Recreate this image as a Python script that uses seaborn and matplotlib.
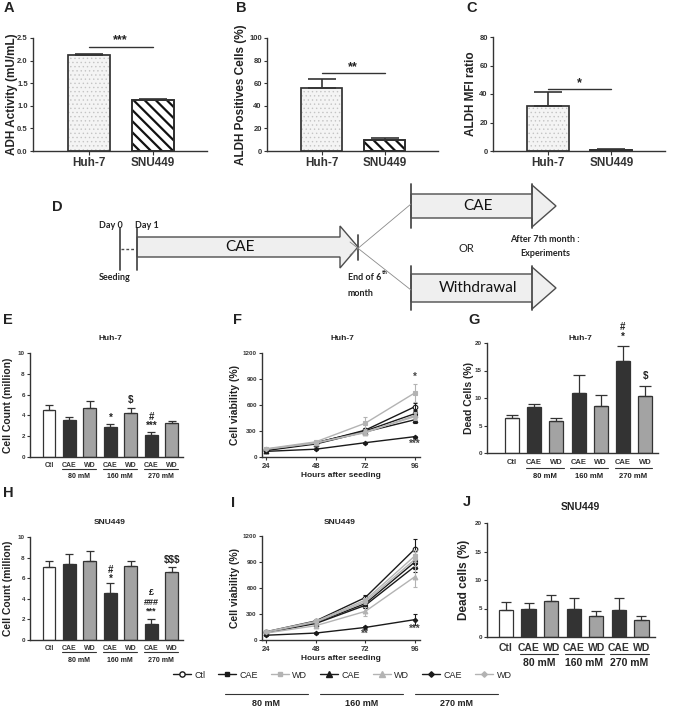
import numpy as np
import pandas as pd
import matplotlib
matplotlib.use("Agg")
import matplotlib.pyplot as plt
from matplotlib.patches import Polygon
from matplotlib.lines import Line2D
from matplotlib.transforms import offset_copy
import seaborn as sns

W, H = 676, 709

# ---- values ----
cell_lines = ["Huh-7", "SNU449"]
adh_mean = [2.12, 1.13]
adh_sem = [0.02, 0.03]
aldh_pos_mean = [55.5, 9.5]
aldh_pos_sem = [8.5, 2.0]
aldh_mfi_mean = [31.5, 1.0]
aldh_mfi_sem = [10.0, 0.6]

conditions = ["Ctl", "CAE", "WD", "CAE", "WD", "CAE", "WD"]
doses = ["80 mM", "160 mM", "270 mM"]

huh_count = [4.5, 3.6, 4.7, 2.9, 4.25, 2.1, 3.25]
huh_count_sem = [0.5, 0.2, 0.7, 0.3, 0.5, 0.35, 0.2]
huh_dead = [6.4, 8.3, 5.9, 11.0, 8.5, 16.8, 10.4]
huh_dead_sem = [0.6, 0.6, 0.4, 3.2, 2.0, 2.7, 1.7]
snu_count = [7.05, 7.4, 7.65, 4.55, 7.2, 1.55, 6.65]
snu_count_sem = [0.65, 0.95, 0.95, 1.0, 0.5, 0.5, 0.45]
snu_dead = [4.8, 4.9, 6.3, 4.9, 3.7, 4.7, 3.0]
snu_dead_sem = [1.4, 1.1, 1.1, 2.0, 0.8, 2.1, 0.6]

hours = [24, 48, 72, 96]
huh_via_ctl = [80, 160, 310, 580]
huh_via_cae80 = [85, 165, 300, 500]
huh_via_wd80 = [95, 175, 390, 740]
huh_via_cae160 = [75, 150, 290, 430]
huh_via_wd160 = [90, 165, 280, 480]
huh_via_cae270 = [65, 90, 165, 235]
huh_via_wd270 = [90, 160, 290, 465]
huh_via_ctl_sem = [8, 12, 25, 40]
huh_via_cae80_sem = [8, 10, 20, 35]
huh_via_wd80_sem = [10, 15, 70, 100]
huh_via_cae160_sem = [6, 10, 20, 40]
huh_via_wd160_sem = [8, 12, 25, 45]
huh_via_cae270_sem = [5, 6, 10, 12]
huh_via_wd270_sem = [8, 10, 25, 40]

snu_via_ctl = [95, 220, 490, 1050]
snu_via_cae80 = [90, 200, 420, 900]
snu_via_wd80 = [95, 215, 460, 970]
snu_via_cae160 = [85, 190, 400, 850]
snu_via_wd160 = [80, 165, 330, 730]
snu_via_cae270 = [55, 80, 145, 235]
snu_via_wd270 = [90, 205, 440, 930]
snu_via_ctl_sem = [10, 15, 30, 110]
snu_via_cae80_sem = [8, 15, 30, 80]
snu_via_wd80_sem = [8, 15, 30, 70]
snu_via_cae160_sem = [8, 12, 25, 70]
snu_via_wd160_sem = [8, 15, 50, 120]
snu_via_cae270_sem = [5, 8, 15, 65]
snu_via_wd270_sem = [8, 15, 30, 80]

# ---- style ----
sns.set_theme(style="ticks")
plt.rcParams["font.family"] = ["Liberation Sans", "DejaVu Sans"]
plt.rcParams["font.weight"] = "bold"
plt.rcParams["axes.labelweight"] = "bold"
plt.rcParams["axes.edgecolor"] = "#333333"
plt.rcParams["xtick.color"] = "#333333"
plt.rcParams["ytick.color"] = "#333333"
plt.rcParams["text.color"] = "#222222"
plt.rcParams["axes.labelcolor"] = "#222222"
plt.rcParams["hatch.linewidth"] = 1.5

DARK = "#333333"
MID = "#a3a3a3"
LINE_BLACK = "#1a1a1a"
LINE_GRAY = "#b3b3b3"
dfont = ["Lato", "DejaVu Sans"]

fig = plt.figure(figsize=(W / 100, H / 100), dpi=100)
ov = fig.add_axes([0, 0, 1, 1])
ov.set_xlim(0, W)
ov.set_ylim(H, 0)
ov.axis("off")


def px_axes(x0, y0, x1, y1):
    return fig.add_axes([x0 / W, 1 - y1 / H, (x1 - x0) / W, (y1 - y0) / H])


def finish(ax, ytick_fs, ylabel, label_x, ylabel_fs):
    sns.despine(ax=ax)
    for s in ("left", "bottom"):
        ax.spines[s].set_linewidth(1.0)
    ax.tick_params(axis="y", labelsize=ytick_fs, length=2.5, width=0.8, pad=1.2)
    ax.set_ylabel(ylabel, fontsize=ylabel_fs)
    ax.yaxis.set_label_coords(label_x, 0.5)


def pair_panel(rect, means, sems, ymax, ystep, fmt, ylabel, label_x, sig, sig_y):
    ax = px_axes(*rect)
    df = pd.DataFrame({"line": cell_lines, "value": means})
    sns.barplot(data=df, x="line", y="value", hue="line", palette=["#f4f4f4", "white"],
                width=0.66, edgecolor=DARK, linewidth=1.2, legend=False, ax=ax)
    dots, stripes = ax.patches[0], ax.patches[1]
    dots.set_hatch("....")
    dots.set_edgecolor("#c4c4c4")
    stripes.set_hatch("\\\\\\")
    stripes.set_edgecolor("#111111")
    if hasattr(dots, "set_hatch_linewidth"):
        dots.set_hatch_linewidth(0.5)
        stripes.set_hatch_linewidth(1.6)
    ax.bar([0, 1], means, width=0.66, fill=False, edgecolor=DARK, linewidth=1.2)
    ax.errorbar([0, 1], means, yerr=[[0, 0], sems], fmt="none", ecolor=DARK,
                elinewidth=1.2, capsize=10, capthick=1.2)
    ax.plot([0, 1], [sig_y, sig_y], color=DARK, lw=1.0)
    ax.text(0.5, sig_y, sig, ha="center", va="bottom", fontsize=9)
    ax.set_xlim(-0.87, 1.85)
    ax.set_ylim(0, ymax)
    ticks = np.arange(0, ymax + ystep / 2, ystep)
    ax.set_yticks(ticks, [fmt.format(t) for t in ticks])
    ax.set_xticks([0, 1], cell_lines)
    ax.tick_params(axis="x", labelsize=8.5, length=3, width=0.8, pad=1.5)
    ax.set_xlabel("")
    finish(ax, 5.5, ylabel, label_x, 8.5)
    return ax


def dose_panel(rect, means, sems, ymax, ystep, ylabel, label_x, offs, tick_fs,
               group_fs, ylabel_fs, marks, cap=3):
    ax = px_axes(*rect)
    ids = [f"{c}{i}" for i, c in enumerate(conditions)]
    df = pd.DataFrame({"cond": ids, "value": means})
    colors = ["white", DARK, MID, DARK, MID, DARK, MID]
    sns.barplot(data=df, x="cond", y="value", hue="cond", palette=colors, width=0.63,
                edgecolor=DARK, linewidth=0.9, legend=False, ax=ax)
    ax.errorbar(range(7), means, yerr=[[0] * 7, sems], fmt="none", ecolor=DARK,
                elinewidth=0.9, capsize=cap, capthick=0.9)
    for i, y, s, fs in marks:
        ax.text(i, y, s, ha="center", va="center", fontsize=fs, clip_on=False)
    lab_px, under_px, group_px = offs
    pad_pt = (lab_px - tick_fs * 1.389 / 2) * 0.72
    ax.set_xticks(range(7), conditions)
    ax.tick_params(axis="x", labelsize=tick_fs, length=0, pad=pad_pt)
    base = ax.get_xaxis_transform()
    tr_line = offset_copy(base, fig=fig, y=-under_px, units="dots")
    tr_text = offset_copy(base, fig=fig, y=-group_px, units="dots")
    for k, dose in enumerate(doses):
        i = 1 + 2 * k
        ax.plot([i - 0.38, i + 1.32], [0, 0], transform=tr_line, color=DARK, lw=0.8,
                clip_on=False)
        ax.text(i + 0.47, 0, dose, transform=tr_text, ha="center", va="center",
                fontsize=group_fs)
    ax.set_xlim(-0.93, 6.55)
    ax.set_ylim(0, ymax)
    ax.set_yticks(np.arange(0, ymax + ystep / 2, ystep))
    ax.set_xlabel("")
    finish(ax, 4.5, ylabel, label_x, ylabel_fs)
    return ax


via_colors = [LINE_BLACK, LINE_BLACK, LINE_GRAY, LINE_BLACK, LINE_GRAY, LINE_BLACK, LINE_GRAY]
via_markers = ["o", "s", "s", "^", "^", "D", "D"]
via_faces = ["white", LINE_BLACK, LINE_GRAY, LINE_BLACK, LINE_GRAY, LINE_BLACK, LINE_GRAY]
via_sizes = [3.3, 3.0, 3.0, 3.4, 3.4, 2.3, 2.3]


def via_panel(rect, series, sems, ylabel, label_x, marks):
    ax = px_axes(*rect)
    for vals, err, c, m, mfc, ms in zip(series, sems, via_colors, via_markers, via_faces, via_sizes):
        sns.lineplot(x=hours, y=vals, ax=ax, color=c, marker=m, markersize=ms,
                     markerfacecolor=mfc, markeredgecolor=c, markeredgewidth=0.8,
                     linewidth=1.0)
        ax.errorbar(hours, vals, yerr=err, fmt="none", ecolor=c, elinewidth=0.8,
                    capsize=1.5, capthick=0.8)
    for x, y, s in marks:
        ax.text(x, y, s, ha="center", va="center", fontsize=7, color="#444444")
    ax.set_xlim(22, 98.5)
    ax.set_xticks(hours)
    ax.set_ylim(0, 1200)
    ax.set_yticks(range(0, 1201, 300))
    ax.tick_params(axis="x", labelsize=5.5, length=2.5, width=0.8, pad=1.5)
    ax.set_xlabel("Hours after seeding", fontsize=6, labelpad=2)
    finish(ax, 4.5, ylabel, label_x, 7.5)
    return ax


def letter(x, y, s):
    ov.text(x, y, s, ha="center", va="center", fontsize=10.5)


def title(x, y, s, fs=6):
    ov.text(x, y, s, ha="center", va="center", fontsize=fs)


# ---- row 1 ----
pair_panel((33, 38, 207, 151), adh_mean, adh_sem, 2.5, 0.5, "{:.1f}",
           "ADH Activity (mU/mL)", -0.086, "***", 2.31)
pair_panel((267, 38, 438, 151), aldh_pos_mean, aldh_pos_sem, 100, 20, "{:.0f}",
           "ALDH Positives Cells (%)", -0.117, "**", 69)
pair_panel((493, 37, 665, 151), aldh_mfi_mean, aldh_mfi_sem, 80, 20, "{:.0f}",
           "ALDH MFI ratio", -0.093, "*", 43.5)
letter(9, 8, "A")
letter(241, 8, "B")
letter(472, 8, "C")

# ---- panel D (timeline diagram) ----
letter(57, 207, "D")
dcol = "#4d4d4d"


def block_arrow(x0, xb, xtip, yc, body_h, head_h):
    pts = [(x0, yc - body_h / 2), (xb, yc - body_h / 2), (xb, yc - head_h / 2),
           (xtip, yc), (xb, yc + head_h / 2), (xb, yc + body_h / 2), (x0, yc + body_h / 2)]
    ov.add_patch(Polygon(pts, closed=True, facecolor="#efefef", edgecolor=dcol, lw=1.0))


block_arrow(137, 340, 358, 247, 20, 42)
block_arrow(411, 532, 556, 206, 24, 42)
block_arrow(411, 532, 556, 288, 28, 42)
for x in (120, 137):
    ov.plot([x, x], [228, 270], color=dcol, lw=1.3)
ov.plot([121, 136], [249, 249], color=dcol, lw=1.0, ls=(0, (2, 1.5)))
ov.plot([358, 358], [235, 260], color=dcol, lw=1.3)
for x in (411, 532):
    ov.plot([x, x], [184, 228], color=dcol, lw=1.3)
    ov.plot([x, x], [266, 310], color=dcol, lw=1.3)
ov.plot([350, 411], [255, 204], color="#8a8a8a", lw=0.6)
ov.plot([350, 411], [242, 290], color="#8a8a8a", lw=0.6)

ov.text(111, 225, "Day 0", ha="center", va="center", fontsize=6.5, family=dfont, fontweight="bold")
ov.text(147, 225, "Day 1", ha="center", va="center", fontsize=6.5, family=dfont, fontweight="bold")
ov.text(115, 277, "Seeding", ha="center", va="center", fontsize=6.5, family=dfont, fontweight="bold")
ov.text(240, 247, "CAE", ha="center", va="center", fontsize=11, family=dfont,
        fontweight="normal", color="#111111")
ov.text(381, 277, "End of 6", ha="right", va="center", fontsize=6.5, family=dfont, fontweight="bold")
ov.text(381.5, 272, "th", ha="left", va="center", fontsize=4.5, family=dfont, fontweight="bold")
ov.text(360, 293, "month", ha="center", va="center", fontsize=6.5, family=dfont, fontweight="bold")
ov.text(478, 206, "CAE", ha="center", va="center", fontsize=11, family=dfont,
        fontweight="normal", color="#111111")
ov.text(466, 248, "OR", ha="center", va="center", fontsize=8, family=dfont, fontweight="normal")
ov.text(545, 239, "After 7th month :", ha="center", va="center", fontsize=6.5, family=dfont, fontweight="bold")
ov.text(545, 253, "Experiments", ha="center", va="center", fontsize=6.5, family=dfont, fontweight="bold")
ov.text(478, 288, "Withdrawal", ha="center", va="center", fontsize=11, family=dfont,
        fontweight="normal", color="#111111")

# ---- row 2 ----
dose_panel((30, 353, 183, 457), huh_count, huh_count_sem, 10, 2, "Cell Count (million)",
           -0.11, (8, 12, 20), 5, 5, 7.5,
           [(3, 3.75, "*", 7), (4, 5.5, "$", 7), (5, 3.85, "#", 7), (5, 2.95, "***", 7)])
via_panel((262, 353, 420, 457),
          [huh_via_ctl, huh_via_cae80, huh_via_wd80, huh_via_cae160, huh_via_wd160,
           huh_via_cae270, huh_via_wd270],
          [huh_via_ctl_sem, huh_via_cae80_sem, huh_via_wd80_sem, huh_via_cae160_sem,
           huh_via_wd160_sem, huh_via_cae270_sem, huh_via_wd270_sem],
          "Cell viability (%)", -0.142, [(96, 930, "*"), (96, 150, "***")])
axG = dose_panel((487, 343, 658, 453), huh_dead, huh_dead_sem, 20, 5, "Dead Cells (%)",
                 -0.075, (10, 15, 24), 5.5, 5.5, 7.5,
                 [(5, 21.1, "*", 7), (5, 22.9, "#", 7), (6, 14.0, "$", 7)], cap=4)
axG.set_xlim(-1.13, 6.58)
letter(8, 320, "E")
letter(237, 320, "F")
letter(474, 320, "G")
title(110, 338, "Huh-7")
title(342, 338, "Huh-7")
title(580, 338, "Huh-7")

# ---- row 3 ----
dose_panel((30, 537, 183, 640), snu_count, snu_count_sem, 10, 2, "Cell Count (million)",
           -0.11, (8, 12, 20), 5, 5, 7.5,
           [(3, 5.97, "*", 7), (3, 6.84, "#", 7), (5, 2.8, "***", 6.5),
            (5, 3.61, "###", 6.5), (5, 4.62, "£", 6.5), (6, 7.8, "$$$", 7)])
via_panel((262, 536, 420, 640),
          [snu_via_ctl, snu_via_cae80, snu_via_wd80, snu_via_cae160, snu_via_wd160,
           snu_via_cae270, snu_via_wd270],
          [snu_via_ctl_sem, snu_via_cae80_sem, snu_via_wd80_sem, snu_via_cae160_sem,
           snu_via_wd160_sem, snu_via_cae270_sem, snu_via_wd270_sem],
          "Cell viability (%)", -0.142, [(72, 70, "**"), (96, 125, "***")])
axJ = dose_panel((487, 523, 655, 637), snu_dead, snu_dead_sem, 20, 5, "Dead cells (%)",
                 -0.101, (11, 17, 26), 7.5, 7.5, 8.5, [], cap=3.5)
axJ.set_xlim(-0.84, 6.6)
letter(8, 493, "H")
letter(233, 503, "I")
letter(467, 502, "J")
title(110, 522, "SNU449")
title(340, 522, "SNU449")
title(580, 507, "SNU449", fs=7.5)

# ---- shared legend ----
handles = [Line2D([], [], color=c, marker=m, markersize=ms + 0.5, markerfacecolor=f,
                  markeredgecolor=c, lw=1.0)
           for c, m, f, ms in zip(via_colors, via_markers, via_faces, via_sizes)]
fig.legend(handles, conditions, loc="center", bbox_to_anchor=(342 / W, 1 - 675 / H),
           ncol=7, frameon=False, prop={"size": 6.5, "weight": "normal"},
           handlelength=2.0, handletextpad=0.4, columnspacing=1.4, borderaxespad=0)
for (x0, x1), dose in zip([(225, 308), (320, 403), (415, 498)], doses):
    ov.plot([x0, x1], [694, 694], color=DARK, lw=0.8)
    ov.text((x0 + x1) / 2, 703, dose, ha="center", va="center", fontsize=6.5)

fig.savefig("out.png", dpi=100)
